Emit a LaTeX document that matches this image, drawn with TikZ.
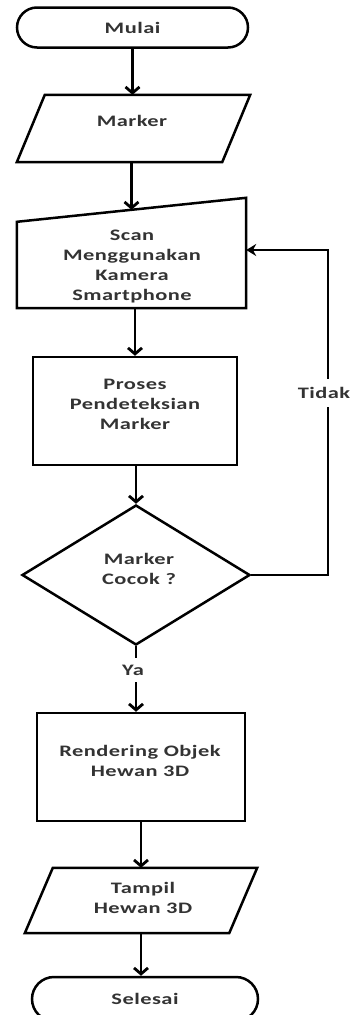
\documentclass[tikz,border=0pt]{standalone}
\usepackage{fontspec}
\setmainfont{Carlito}[FakeStretch=1.4,LetterSpace=3]
\usetikzlibrary{arrows.meta,shapes.geometric,shapes.misc,calc}
\begin{document}
\begin{tikzpicture}[x=1pt,y=-1pt,
  shp/.style={draw=black,line width=2.5pt,fill=white,inner sep=0pt},
  term/.style={shp,rounded rectangle,font=\bfseries\fontsize{16}{20}\selectfont,text=black!80},
  hold/.style={draw=none,inner sep=0pt},
  txt/.style={font=\bfseries\fontsize{16}{20}\selectfont,text=black!80,align=center,inner sep=0pt},
  arr/.style={line width=2.8pt,-{Straight Barb[length=6pt,width=14pt]}},
  line/.style={line width=2.8pt},
  arrb/.style={line width=2.4pt,-{Stealth[length=10pt,width=12pt]}}
]
\useasboundingbox (0,0) rectangle (352,1015);

% shapes
\node[term,minimum width=231pt,minimum height=40pt] (mulai) at (132.5,27.5) {Mulai};

\node[hold,minimum width=233pt,minimum height=67pt] (marker) at (133.5,128.5) {};
\draw[shp] (marker.south west) -- ([xshift=28pt]marker.north west) -- (marker.north east) -- ([xshift=-28pt]marker.south east) -- cycle;
\node[txt] (markertxt) at (132,121) {Marker};

\node[hold,minimum width=229pt,minimum height=110pt] (scan) at (131.5,253) {};
\draw[shp] (scan.south west) -- ([yshift=-24pt]scan.north west) -- (scan.north east) -- (scan.south east) -- cycle;
\coordinate (scantop) at ($([yshift=-24pt]scan.north west)!0.5!(scan.north east)$);
\node[txt] (scantxt) at (132,267) {Scan\\Menggunakan\\Kamera\\Smartphone};

\node[shp,minimum width=204pt,minimum height=108pt] (proses) at (135,411) {};
\node[txt] (prosestxt) at (135,404) {Proses\\Pendeteksian\\Marker};

\node[shp,diamond,minimum width=228pt,minimum height=140pt] (dec) at (136,575) {};
\node[txt] (dectxt) at (139,569) {Marker\\Cocok ?};

\node[txt,inner ysep=7pt] (ya) at (133,670) {Ya};

\node[shp,minimum width=208pt,minimum height=108pt] (render) at (141,767) {};
\node[txt] (rendertxt) at (140,761) {Rendering Objek\\Hewan 3D};

\node[hold,minimum width=232pt,minimum height=65pt] (tampil) at (141,900.5) {};
\draw[shp] (tampil.south west) -- ([xshift=28pt]tampil.north west) -- (tampil.north east) -- ([xshift=-28pt]tampil.south east) -- cycle;
\node[txt] (tampiltxt) at (143,898) {Tampil\\Hewan 3D};

\node[term,minimum width=226pt,minimum height=44pt] (selesai) at (145,999) {Selesai};

% connectors
\draw[arr] (mulai.south) -- (mulai.south |- marker.north);
\draw[arr] (scantop |- marker.south) -- (scantop);
\draw[arr] (scan.south -| proses.north) -- (proses.north);
\draw[arr] (proses.south -| dec.north) -- (dec.north);
\draw[line] (dec.south) -- (dec.south |- ya.north);
\draw[arr] (ya.south -| dec.south) -- (dec.south |- render.north);
\draw[arr] (render.south) -- (render.south |- tampil.north);
\draw[arr] (tampil.south) -- (tampil.south |- selesai.north);

\coordinate (c1) at (328,575);
\coordinate (c2) at (328,250);
\draw[arrb] (dec.east) -- (c1) -- node[txt,fill=white,pos=0.56,inner xsep=1pt,inner ysep=8pt,xshift=-4pt] (tidak) {Tidak} (c2) -- (scan.east |- c2);
\end{tikzpicture}
\end{document}
